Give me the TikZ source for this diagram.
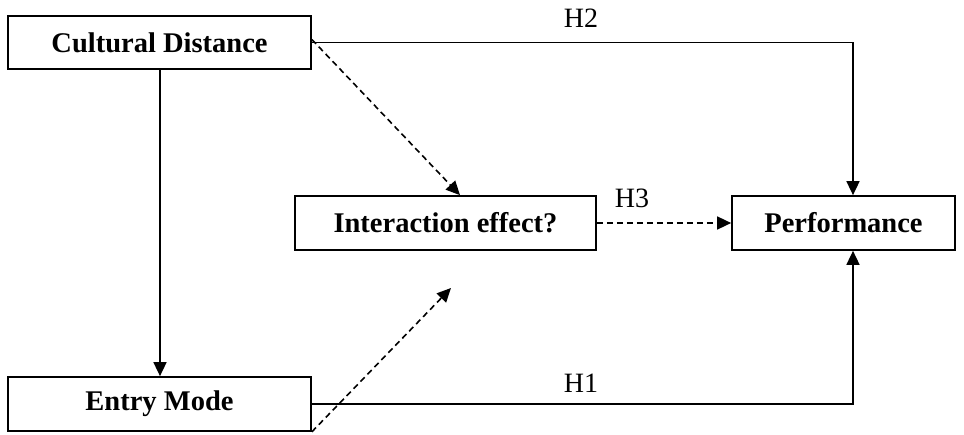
\documentclass[tikz,border=0pt]{standalone}
\usepackage{fontspec}
\setmainfont{Liberation Serif}
\usetikzlibrary{arrows.meta}
\begin{document}
\begin{tikzpicture}[x=1pt,y=-1pt,
  box/.style={draw,line width=1.7pt,inner sep=0pt,font=\fontsize{28.5}{32}\selectfont\bfseries},
  conn/.style={line width=1.6pt,-{Triangle[length=14pt,width=13pt]}},
  dashconn/.style={conn,dash pattern=on 6pt off 4pt},
  hlabel/.style={font=\fontsize{28}{32}\selectfont,inner sep=0pt}]
\useasboundingbox (0,0) rectangle (964,435);
% boxes
\node[box,minimum width=303pt,minimum height=53pt] (cd) at (159.5,42.5) {Cultural Distance};
\node[box,minimum width=303pt,minimum height=54pt] (em) at (159.5,404) {Entry Mode};
\node[box,minimum width=301pt,minimum height=54pt] (ie) at (445.5,223) {Interaction effect?};
\node[box,minimum width=223pt,minimum height=54pt] (pf) at (843.5,223) {Performance};
% corner points of the hypothesis paths
\coordinate (h2c) at (853,42.5);
\coordinate (h1c) at (853,404);
\coordinate (emtip) at (451,288);
% solid paths
\draw[conn] (cd.south -| 160,0) -- (em.north -| 160,0);
\draw[conn] (cd.east) -- (h2c) -- (h2c |- pf.north);
\draw[conn] (em.east) -- (h1c) -- (h1c |- pf.south);
% moderating (dashed) paths
\draw[dashconn] ([yshift=3pt]cd.east) -- (ie.north -| 460,0);
\draw[dashconn] (em.south east) -- (emtip);
\draw[dashconn] (ie.east) -- (pf.west);
% labels
\node[hlabel] (l2) at (581,18) {H2};
\node[hlabel] (l1) at (581,383) {H1};
\node[hlabel] (l3) at (632,198) {H3};
\end{tikzpicture}
\end{document}
